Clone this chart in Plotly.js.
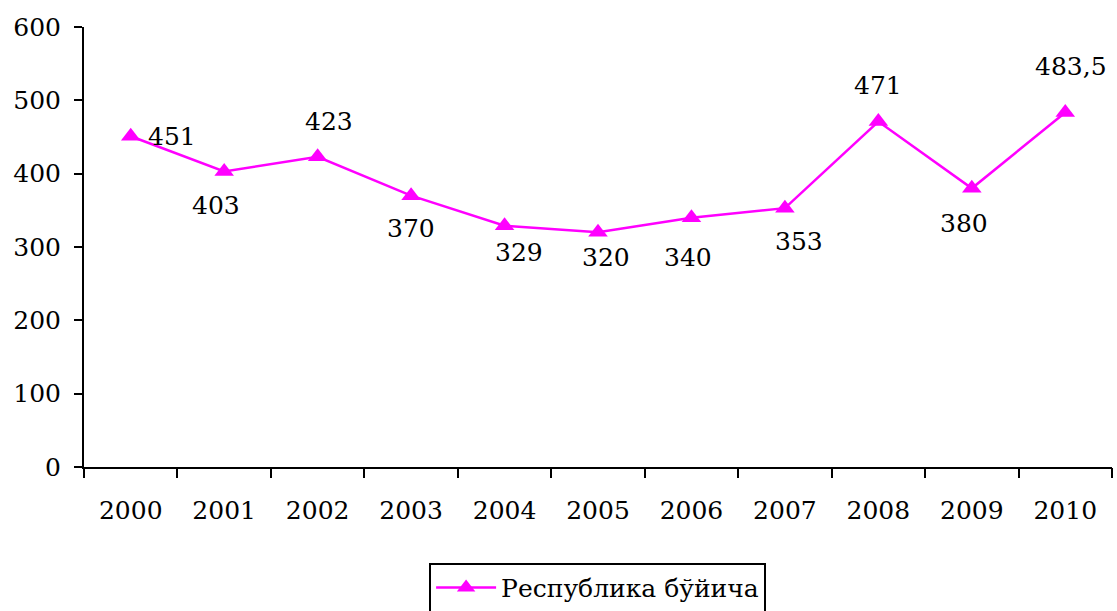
<!DOCTYPE html>
<html>
<head>
<meta charset="utf-8">
<script src="https://cdn.plot.ly/plotly-3.0.1.min.js"></script>
<style>html,body{margin:0;padding:0;background:#fff;}#chart{width:1117px;height:611px;}</style>
</head>
<body>
<div id="chart"></div>
<script>
const years = ['2000','2001','2002','2003','2004','2005','2006','2007','2008','2009','2010'];
const values = [451, 403, 423, 370, 329, 320, 340, 353, 471, 380, 483.5];
const valueLabels = ['451','403','423','370','329','320','340','353','471','380','483,5'];
const seriesName = 'Республика бўйича';
const yTicks = [0, 100, 200, 300, 400, 500, 600];

// label placement offsets in pixels (style only)
const labelDx = [41, -8, 11, 0, 14, 8, -3, 14, 0, -8, 6];
const labelDy = [0, -34, 35, -33, -27, -25, -40, -33, 36, -35, 46];

const FONT = 'DejaVu Serif';
const FS = 25;
const idx = years.map((_, i) => i);
const bounds = years.map((_, i) => i - 0.5).concat([years.length - 0.5]);
const xRange = [-0.5, years.length - 0.5];

const annotations = idx.map((xi, i) => ({
  x: xi, y: values[i], xref: 'x', yref: 'y',
  text: valueLabels[i], showarrow: false,
  xshift: labelDx[i], yshift: labelDy[i],
  font: {family: FONT, size: FS, color: '#000'}
}));

const trace = {
  x: idx, y: values, type: 'scatter', mode: 'lines+markers',
  name: seriesName,
  line: {color: '#FF00FF', width: 2.5},
  marker: {symbol: 'triangle-up', size: 17, color: '#FF00FF'}
};
const helper = {
  x: xRange, y: [0, 0], xaxis: 'x2', yaxis: 'y', mode: 'lines',
  line: {color: 'rgba(0,0,0,0)'}, showlegend: false, hoverinfo: 'skip'
};

const layout = {
  width: 1117, height: 611,
  margin: {l: 84, r: 5, t: 27, b: 144},
  paper_bgcolor: '#fff', plot_bgcolor: '#fff',
  font: {family: FONT, size: FS, color: '#000'},
  showlegend: true,
  legend: {
    orientation: 'h', xref: 'container', yref: 'container',
    x: 0.535, xanchor: 'center', y: 0.079, yanchor: 'top',
    itemwidth: 60,
    bordercolor: '#000', borderwidth: 2, font: {family: FONT, size: FS, color: '#000'}
  },
  xaxis: {
    range: xRange, tickmode: 'array', tickvals: idx, ticktext: years,
    ticks: '', showline: true, linecolor: '#000', linewidth: 2,
    showgrid: false, zeroline: false, ticklabelstandoff: 20,
    tickfont: {family: FONT, size: FS, color: '#000'}
  },
  xaxis2: {
    range: xRange, overlaying: 'x', anchor: 'y', side: 'bottom',
    tickmode: 'array', tickvals: bounds, showticklabels: false,
    ticks: 'outside', ticklen: 10, tickwidth: 2, tickcolor: '#000',
    showline: false, showgrid: false, zeroline: false
  },
  yaxis: {
    range: [0, 600], tickvals: yTicks, ticktext: yTicks.map(String),
    ticks: 'outside', ticklen: 8, tickwidth: 2, tickcolor: '#000',
    showline: true, linecolor: '#000', linewidth: 2, showgrid: false, zeroline: false,
    ticklabelstandoff: 8,
    tickfont: {family: FONT, size: FS, color: '#000'}
  },
  annotations: annotations
};

Plotly.newPlot('chart', [helper, trace], layout, {displayModeBar: false, staticPlot: true});
</script>
</body>
</html>
